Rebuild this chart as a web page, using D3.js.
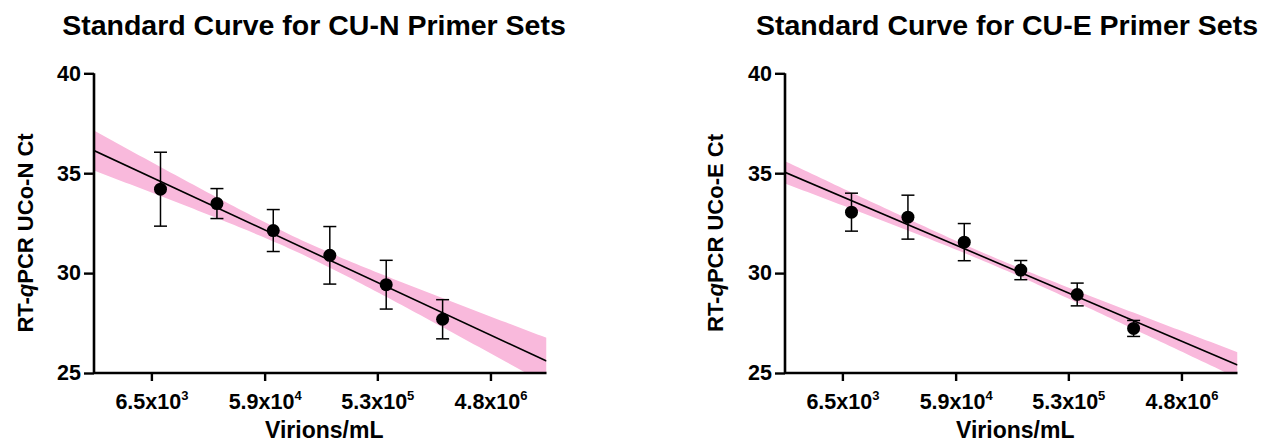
<!DOCTYPE html>
<html>
<head>
<meta charset="utf-8">
<script src="https://cdn.jsdelivr.net/npm/d3@7"></script>
<style>
  html, body { margin: 0; padding: 0; background: #fff; }
  svg { display: block; font-family: "Liberation Sans", Arial, sans-serif; }
</style>
</head>
<body>
<svg id="chart" width="1263" height="444"></svg>
<script>
// ---------- data ----------
const virions = [7.76e3, 2.33e4, 6.98e4, 2.10e5, 6.30e5, 1.89e6];
const ctN = [34.2, 33.48, 32.13, 30.89, 29.42, 27.69];
const sdN = [1.85, 0.75, 1.05, 1.44, 1.22, 0.98];
const ctE = [33.05, 32.8, 31.55, 30.15, 28.93, 27.23];
const sdE = [0.95, 1.1, 0.93, 0.48, 0.57, 0.40];
// 95% band half-width (Ct units) at mean x and at the left end of the axis
const bandN = [0.35, 1.0];
const bandE = [0.2, 0.56];
const xTickValues = [6.5e3, 5.9e4, 5.3e5, 4.8e6];
const xTickMant = ["6.5", "5.9", "5.3", "4.8"];
const xTickExp = ["3", "4", "5", "6"];
const xDomain = [2.125e3, 1.43e7];
const yDomain = [25, 40];
const yTickValues = [25, 30, 35, 40];
const titles = ["Standard Curve for CU-N Primer Sets", "Standard Curve for CU-E Primer Sets"];
const yLabels = [["RT-", "q", "PCR UCo-N Ct"], ["RT-", "q", "PCR UCo-E Ct"]];
const xLabel = "Virions/mL";

const svg = d3.select("#chart");

const panels = [
  { x0: 94, x1: 546.5, ct: ctN, sd: sdN, band: bandN, title: titles[0], yl: yLabels[0], titleX: 314, ylX: 32.5 },
  { x0: 785, x1: 1237.5, ct: ctE, sd: sdE, band: bandE, title: titles[1], yl: yLabels[1], titleX: 1007, ylX: 723 }
];
const yTop = 73.3, yBot = 373;

panels.forEach((p, i) => {
  const g = svg.append("g");
  const x = d3.scaleLog().domain(xDomain).range([p.x0, p.x1]);
  const y = d3.scaleLinear().domain(yDomain).range([yBot, yTop]);

  // linear regression of Ct on log10(virions)
  const lx = virions.map(v => Math.log10(v));
  const mx = d3.mean(lx), my = d3.mean(p.ct);
  let sxy = 0, sxx = 0;
  lx.forEach((v, k) => { sxy += (v - mx) * (p.ct[k] - my); sxx += (v - mx) ** 2; });
  const slope = sxy / sxx, icpt = my - slope * mx;
  const lmin = Math.log10(xDomain[0]), lmax = Math.log10(xDomain[1]);
  const dxL = mx - lmin;
  const half = l => Math.sqrt(p.band[0] ** 2 + (p.band[1] ** 2 - p.band[0] ** 2) * ((l - mx) / dxL) ** 2);

  const clipId = "clip" + i;
  svg.append("defs").append("clipPath").attr("id", clipId)
    .append("rect").attr("x", p.x0).attr("y", yTop).attr("width", p.x1 - p.x0).attr("height", yBot - yTop);

  const samples = d3.range(0, 101).map(k => lmin + (lmax - lmin) * k / 100);
  const area = d3.area()
    .x(l => x(Math.pow(10, l)))
    .y0(l => y(icpt + slope * l - half(l)))
    .y1(l => y(icpt + slope * l + half(l)));
  g.append("path").datum(samples).attr("d", area)
    .attr("fill", "#f9b9dc").attr("clip-path", `url(#${clipId})`);

  const line = d3.line().x(l => x(Math.pow(10, l))).y(l => y(icpt + slope * l));
  g.append("path").datum([lmin, lmax]).attr("d", line)
    .attr("fill", "none").attr("stroke", "#000").attr("stroke-width", 1.6)
    .attr("clip-path", `url(#${clipId})`);

  // error bars
  const capW = 6.5;
  const eb = g.append("g").attr("stroke", "#000").attr("stroke-width", 1.5);
  virions.forEach((v, k) => {
    const cx = x(v), yt = y(p.ct[k] + p.sd[k]), yb = y(p.ct[k] - p.sd[k]);
    eb.append("line").attr("x1", cx).attr("x2", cx).attr("y1", yt).attr("y2", yb);
    eb.append("line").attr("x1", cx - capW).attr("x2", cx + capW).attr("y1", yt).attr("y2", yt);
    eb.append("line").attr("x1", cx - capW).attr("x2", cx + capW).attr("y1", yb).attr("y2", yb);
  });
  g.selectAll("circle.pt").data(virions).join("circle").attr("class", "pt")
    .attr("cx", v => x(v)).attr("cy", (v, k) => y(p.ct[k])).attr("r", 6.5).attr("fill", "#000");

  // axes
  const ya = g.append("g").attr("transform", `translate(${p.x0},0)`)
    .call(d3.axisLeft(y).tickValues(yTickValues).tickSize(10).tickPadding(3).tickFormat(d3.format("d")));
  ya.select(".domain").attr("stroke-width", 2.6).attr("d", `M0,${yTop}V${yBot}`);
  ya.selectAll(".tick line").attr("stroke-width", 2.4);
  ya.selectAll(".tick text").attr("font-size", 21.5).attr("font-weight", "bold")
    .attr("font-family", "'Liberation Sans', Arial, sans-serif").attr("fill", "#000");

  const xa = g.append("g").attr("transform", `translate(0,${yBot})`)
    .call(d3.axisBottom(x).tickValues(xTickValues).tickSize(8).tickFormat(() => ""));
  xa.select(".domain").attr("stroke-width", 2.6).attr("d", `M${p.x0},0H${p.x1}`);
  xa.selectAll(".tick line").attr("stroke-width", 2.4);
  xa.selectAll(".tick text").remove();
  xa.selectAll(".tick").each(function (d, k) {
    const t = d3.select(this).append("text").attr("y", 35.5).attr("text-anchor", "middle")
      .attr("font-size", 21.5).attr("font-weight", "bold").attr("fill", "#000")
      .attr("font-family", "'Liberation Sans', Arial, sans-serif");
    t.append("tspan").text(xTickMant[k] + "x10");
    t.append("tspan").attr("font-size", 13).attr("dy", -8.5).text(xTickExp[k]);
  });

  // titles & labels
  svg.append("text").attr("x", p.titleX).attr("y", 35).attr("text-anchor", "middle")
    .attr("font-size", 28.5).attr("font-weight", "bold").attr("fill", "#000").text(p.title);
  svg.append("text").attr("x", (p.x0 + p.x1) / 2 + 4).attr("y", 438).attr("text-anchor", "middle")
    .attr("font-size", 23).attr("font-weight", "bold").attr("fill", "#000").text(xLabel);
  const yl = svg.append("text").attr("transform", `translate(${p.ylX},${233}) rotate(-90)`)
    .attr("text-anchor", "middle").attr("font-size", 22).attr("font-weight", "bold").attr("fill", "#000");
  yl.append("tspan").text(p.yl[0]);
  yl.append("tspan").attr("font-style", "italic").text(p.yl[1]);
  yl.append("tspan").text(p.yl[2]);
});
</script>
</body>
</html>
